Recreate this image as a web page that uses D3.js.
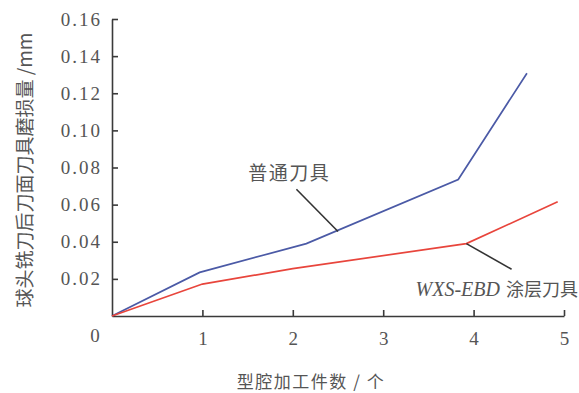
<!DOCTYPE html>
<html><head><meta charset="utf-8">
<script src="https://cdn.jsdelivr.net/npm/d3@7"></script>
<style>
html,body{margin:0;padding:0;background:#fff;}
svg{display:block;}
</style></head>
<body>
<svg id="c" width="579" height="393"></svg>
<script>
// ---- data ----
const xTicks = [1, 2, 3, 4, 5];
const xTickLabels = ["1", "2", "3", "4", "5"];
const yTicks = [0.02, 0.04, 0.06, 0.08, 0.10, 0.12, 0.14, 0.16];
const yTickLabels = ["0.02", "0.04", "0.06", "0.08", "0.10", "0.12", "0.14", "0.16"];
const originLabel = "0";
const normalX = [0, 0.97, 2.15, 3.83, 4.59];
const normalY = [0, 0.0235, 0.039, 0.0735, 0.1308];
const coatedX = [0, 1.0, 2.0, 3.92, 4.93];
const coatedY = [0, 0.0172, 0.0255, 0.039, 0.0615];
const seriesNames = ["普通刀具", "WXS-EBD 涂层刀具"];
const xTitle = "型腔加工件数 / 个";
const yTitle = "球头铣刀后刀面刀具磨损量 /mm";

// ---- layout ----
const svg = d3.select("#c");
const x = d3.scaleLinear().domain([0, 5]).range([112, 564]);
const y = d3.scaleLinear().domain([0, 0.16]).range([316, 19]);
const axisColor = "#3a3a3a";
const textColor = "#555";
const serif = "'Liberation Serif','DejaVu Serif',serif";
const cjk = "'Noto Sans CJK SC','Noto Sans CJK JP',sans-serif";

// x axis
const gx = svg.append("g").attr("transform", `translate(0,${y(0)})`)
  .call(d3.axisBottom(x).tickValues(xTicks).tickFormat((d, i) => xTickLabels[i])
    .tickSizeInner(-6).tickSizeOuter(0).tickPadding(16));
gx.select(".domain").attr("stroke", axisColor).attr("stroke-width", 1.6);
gx.selectAll(".tick line").attr("stroke", axisColor).attr("stroke-width", 1.6);
gx.selectAll(".tick text").attr("font-family", serif).attr("font-size", 19)
  .attr("fill", textColor).attr("dy", "0.7em");

// y axis
const gy = svg.append("g").attr("transform", `translate(${x(0)},0)`)
  .call(d3.axisLeft(y).tickValues(yTicks).tickFormat((d, i) => yTickLabels[i])
    .tickSizeInner(-6).tickSizeOuter(0).tickPadding(10));
gy.select(".domain").attr("stroke", axisColor).attr("stroke-width", 1.6);
gy.selectAll(".tick line").attr("stroke", axisColor).attr("stroke-width", 1.6);
gy.selectAll(".tick text").attr("font-family", serif).attr("font-size", 19)
  .attr("fill", textColor).attr("letter-spacing", 2);

// origin label
svg.append("text").attr("x", x(0) - 17).attr("y", y(0) + 22)
  .attr("text-anchor", "middle").attr("dominant-baseline", "middle")
  .attr("font-family", serif).attr("font-size", 19).attr("fill", textColor).text(originLabel);

// lines
const line = d3.line().x(d => x(d[0])).y(d => y(d[1]));
svg.append("path").datum(normalX.map((v, i) => [v, normalY[i]]))
  .attr("d", line).attr("fill", "none").attr("stroke", "#4b5aa6").attr("stroke-width", 1.7);
svg.append("path").datum(coatedX.map((v, i) => [v, coatedY[i]]))
  .attr("d", line).attr("fill", "none").attr("stroke", "#e8453c").attr("stroke-width", 1.7);

// annotations (leaders)
svg.append("line").attr("x1", x(2.04)).attr("y1", y(0.0683)).attr("x2", x(2.5)).attr("y2", y(0.0455))
  .attr("stroke", "#333").attr("stroke-width", 1.6);
svg.append("line").attr("x1", x(3.92)).attr("y1", y(0.039)).attr("x2", x(4.42)).attr("y2", y(0.0252))
  .attr("stroke", "#333").attr("stroke-width", 1.6);

svg.append("text").attr("x", x(1.96)).attr("y", y(0.0777))
  .attr("text-anchor", "middle").attr("dominant-baseline", "central")
  .attr("font-family", cjk).attr("font-size", 19).attr("letter-spacing", 1.5)
  .attr("fill", textColor).text(seriesNames[0]);

const parts = seriesNames[1].split(" ");
const t2 = svg.append("text").attr("x", 578).attr("y", y(0.0108))
  .attr("text-anchor", "end").attr("fill", textColor).attr("font-size", 20);
t2.append("tspan").attr("font-family", serif).attr("font-style", "italic").text(parts[0]);
t2.append("tspan").attr("font-family", cjk).attr("font-size", 18).attr("dx", 6).text(parts[1]);

// axis titles
svg.append("text").attr("x", 311).attr("y", 380)
  .attr("text-anchor", "middle").attr("dominant-baseline", "central")
  .attr("font-family", cjk).attr("font-size", 17).attr("fill", textColor)
  .attr("letter-spacing", 1.5).text(xTitle);
svg.append("text").attr("transform", "translate(23,170) rotate(-90)")
  .attr("text-anchor", "middle").attr("dominant-baseline", "central")
  .attr("font-family", cjk).attr("font-size", 19).attr("fill", textColor)
  .text(yTitle);
</script>
</body></html>
